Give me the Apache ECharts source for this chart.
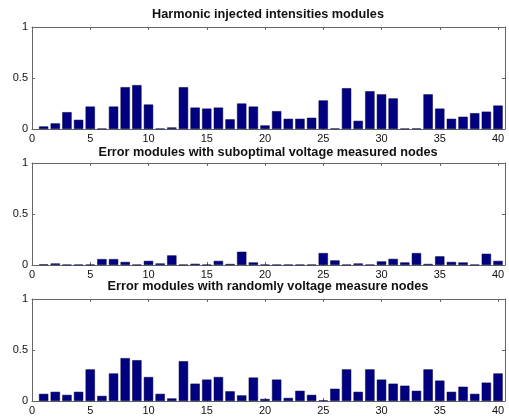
<!DOCTYPE html>
<html>
<head>
<meta charset="utf-8">
<script src="https://cdn.jsdelivr.net/npm/echarts@6/dist/echarts.min.js"></script>
<style>
html,body{margin:0;padding:0;background:#fff;}
#chart{width:509px;height:416px;}
</style>
</head>
<body>
<div id="chart"></div>
<script>
// ---- data ----
var nodes = [1,2,3,4,5,6,7,8,9,10,11,12,13,14,15,16,17,18,19,20,21,22,23,24,25,26,27,28,29,30,31,32,33,34,35,36,37,38,39,40];
var xTicks = [0,5,10,15,20,25,30,35,40];
var yTicks = [0,0.5,1];
var titles = [
  'Harmonic injected intensities modules',
  'Error modules with suboptimal voltage measured nodes',
  'Error modules with randomly voltage measure nodes'
];
var injected = [0.025,0.055,0.165,0.09,0.22,0.003,0.22,0.41,0.43,0.24,0.003,0.015,0.41,0.21,0.20,0.21,0.095,0.25,0.22,0.035,0.175,0.10,0.10,0.11,0.28,0.005,0.40,0.08,0.37,0.34,0.30,0.003,0.005,0.34,0.20,0.10,0.12,0.155,0.17,0.23];
var suboptimal = [0.006,0.015,0.003,0.003,0.003,0.058,0.058,0.03,0.003,0.04,0.015,0.094,0.003,0.012,0.003,0.04,0.01,0.13,0.025,0.003,0.003,0.003,0.003,0.003,0.117,0.045,0.003,0.015,0.003,0.035,0.06,0.025,0.117,0.01,0.085,0.03,0.025,0.003,0.11,0.04];
var randomly = [0.07,0.09,0.06,0.09,0.31,0.05,0.27,0.42,0.40,0.235,0.07,0.025,0.39,0.17,0.21,0.235,0.095,0.055,0.23,0.02,0.21,0.03,0.10,0.06,0.006,0.12,0.31,0.09,0.31,0.21,0.17,0.15,0.10,0.31,0.20,0.09,0.14,0.07,0.18,0.27];
var panels = [injected, suboptimal, randomly];

// ---- layout ----
var gridTops = [27, 163, 299];
var gridH = 102;
var titleTops = [7.5, 146, 279.5];
var FONT = '"Liberation Sans", Arial, Helvetica, sans-serif';
var XMAX = 40.6;
var axisCol = '#666';

function axisLine() { return {show: true, onZero: false, lineStyle: {color: axisCol, width: 1}}; }
function axisTick() { return {show: true, inside: true, length: 3, lineStyle: {color: axisCol}}; }

var option = {
  animation: false,
  backgroundColor: '#fff',
  title: [], grid: [], xAxis: [], yAxis: [], series: []
};

panels.forEach(function (vals, p) {
  option.title.push({
    text: titles[p], left: 268, top: titleTops[p], textAlign: 'center', padding: 0,
    textStyle: {fontFamily: FONT, fontSize: 12.7, fontWeight: 'bold', color: '#111'}
  });
  option.grid.push({left: 32, right: 4, top: gridTops[p], height: gridH});
  option.xAxis.push({
    type: 'value', gridIndex: p, min: 0, max: XMAX, interval: 5, position: 'bottom',
    splitLine: {show: false}, axisLine: axisLine(), axisTick: axisTick(),
    axisLabel: {
      show: true, margin: 4, color: '#111', fontFamily: FONT, fontSize: 11,
      showMaxLabel: false,
      formatter: function (v) { return xTicks.indexOf(v) >= 0 ? String(v) : ''; }
    }
  });
  option.xAxis.push({
    type: 'value', gridIndex: p, min: 0, max: XMAX, interval: 5, position: 'top',
    splitLine: {show: false}, axisLine: axisLine(), axisTick: axisTick(),
    axisLabel: {show: false}
  });
  option.yAxis.push({
    type: 'value', gridIndex: p, min: 0, max: 1, interval: 0.5, position: 'left',
    splitLine: {show: false}, axisLine: axisLine(), axisTick: axisTick(),
    axisLabel: {
      show: true, margin: 4, color: '#111', fontFamily: FONT, fontSize: 11,
      formatter: function (v) { return yTicks.indexOf(v) >= 0 ? String(v) : ''; }
    }
  });
  option.yAxis.push({
    type: 'value', gridIndex: p, min: 0, max: 1, interval: 0.5, position: 'right',
    splitLine: {show: false}, axisLine: axisLine(), axisTick: axisTick(),
    axisLabel: {show: false}
  });
  option.series.push({
    type: 'bar',
    xAxisIndex: p * 2, yAxisIndex: p * 2,
    barWidth: '80%',
    itemStyle: {color: '#000080', borderColor: '#000040', borderWidth: 0.5},
    data: nodes.map(function (n, i) { return [n, vals[i]]; })
  });
});

var chart = echarts.init(document.getElementById('chart'), null, {renderer: 'canvas'});
chart.setOption(option);
</script>
</body>
</html>
